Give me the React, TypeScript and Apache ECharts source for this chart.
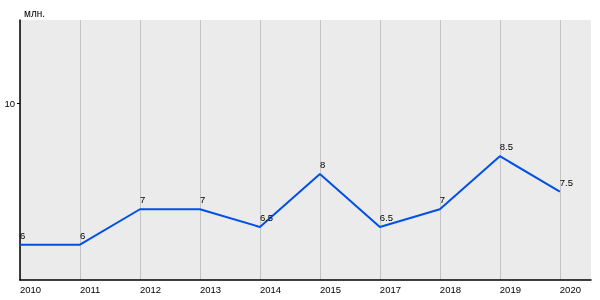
import React, { useEffect, useRef } from "react";
import * as echarts from "echarts";

const categories = ["2010", "2011", "2012", "2013", "2014", "2015", "2017", "2018", "2019", "2020"];
const values = [6, 6, 7, 7, 6.5, 8, 6.5, 7, 8.5, 7.5];
const unitLabel = "млн.";
const yTickLabels = [10];

export default function App() {
  const ref = useRef<HTMLDivElement>(null);
  useEffect(() => {
    if (!ref.current) return;
    const chart = echarts.init(ref.current, undefined, { renderer: "svg" });
    const font = "Liberation Sans, Arial, sans-serif";
    chart.setOption({
      animation: false,
      title: {
        text: unitLabel,
        left: 19,
        top: 3,
        textStyle: { fontSize: 10, fontWeight: "normal", color: "#000", fontFamily: font },
      },
      grid: {
        left: 20,
        top: 20,
        right: 9,
        bottom: 20,
        show: true,
        backgroundColor: "#ebebeb",
        borderWidth: 0,
      },
      xAxis: {
        type: "value",
        min: 0,
        max: categories.length - 1 + 0.52,
        interval: 1,
        axisLine: { show: true, onZero: false, lineStyle: { color: "#000", width: 1.5 } },
        axisTick: { show: false },
        splitLine: { show: true, showMaxLine: false, lineStyle: { color: "#c4c4c4", width: 1 } },
        axisLabel: {
          align: "left",
          margin: 4,
          fontSize: 9.5,
          color: "#000",
          fontFamily: font,
          showMaxLabel: false,
          formatter: (v: number) => (Number.isInteger(v) && categories[v] !== undefined ? categories[v] : ""),
        },
      },
      yAxis: {
        type: "value",
        min: 5,
        max: 12.35,
        interval: 5,
        axisLine: { show: true, lineStyle: { color: "#000", width: 1.5 } },
        axisTick: { show: true, length: 3, customValues: yTickLabels, lineStyle: { color: "#000" } },
        splitLine: { show: true, showMaxLine: false, showMinLine: false, lineStyle: { color: "#c4c4c4", width: 1 } },
        axisLabel: {
          margin: 5,
          fontSize: 9.5,
          color: "#000",
          fontFamily: font,
          customValues: yTickLabels,
          formatter: (v: number) => String(v),
        },
      },
      series: [
        {
          type: "line",
          data: values.map((v, i) => [i, v]),
          symbol: "circle",
          symbolSize: 1,
          showSymbol: true,
          itemStyle: { color: "rgba(0,0,0,0)", borderWidth: 0 },
          lineStyle: { color: "#0050e6", width: 2 },
          label: {
            show: true,
            position: "top",
            align: "left",
            distance: 4,
            fontSize: 9.5,
            color: "#000",
            fontFamily: font,
            formatter: (p: any) => String(p.value[1]),
          },
          emphasis: { disabled: true },
        },
      ],
    });
    return () => chart.dispose();
  }, []);
  return <div ref={ref} style={{ position: "fixed", left: 0, top: 0, width: 600, height: 300 }} />;
}
